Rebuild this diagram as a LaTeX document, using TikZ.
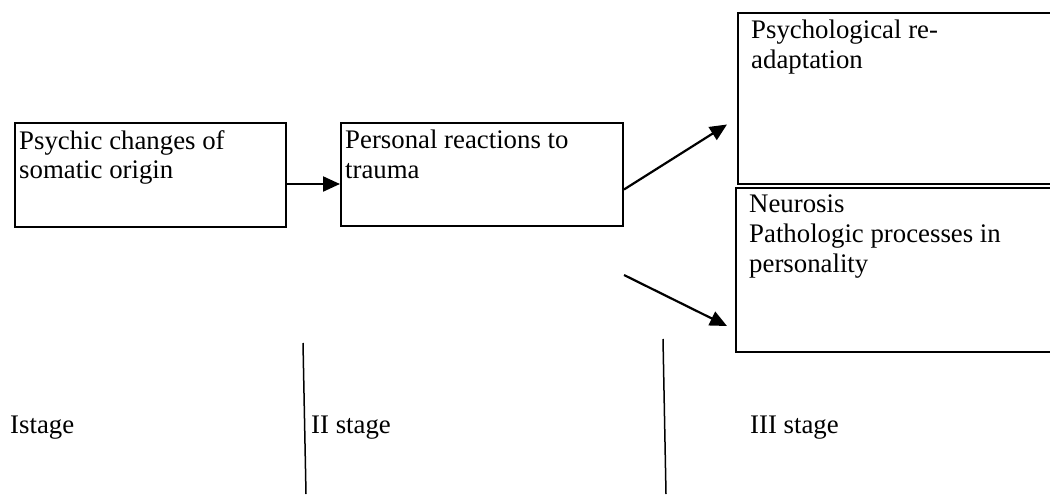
\documentclass[tikz,border=0pt]{standalone}
\usepackage{fontspec}
\setmainfont{Liberation Serif}
\usetikzlibrary{arrows.meta,positioning}

\begin{document}
\begin{tikzpicture}[x=1pt,y=-1pt,font=\fontsize{26.8pt}{29.7pt}\selectfont,
  main node/.style={rectangle,draw,line width=2pt,anchor=north west,inner sep=0pt},
  box text/.style={anchor=north west,align=left,inner sep=0pt,xshift=5pt,yshift=-8pt},
  flow/.style={-{Triangle[length=17pt,width=15pt]},line width=2.2pt},
  stage line/.style={line width=1.5pt},
  stage/.style={anchor=base west,inner sep=0pt}]
  \useasboundingbox (0,0) rectangle (1050,498);
  \clip (0,0) rectangle (1050,498);
  % boxes of the three stages
  \node [main node,minimum width=271pt,minimum height=104pt] (somatic) at (14,122) {};
  \node [main node,minimum width=282pt,minimum height=103pt] (reaction) at (340,122) {};
  \node [main node,minimum width=340pt,minimum height=171pt] (readapt) at (737,12) {};
  \node [main node,minimum width=340pt,minimum height=164pt] (neurosis) at (735,187) {};
  \node [box text] (somatictext) at (somatic.north west) {Psychic changes of\\somatic origin};
  \node [box text] (reactiontext) at (reaction.north west) {Personal reactions to\\trauma};
  \node [box text,xshift=9pt] (readapttext) at (readapt.north west) {Psychological re-\\adaptation};
  \node [box text,xshift=9pt] (neurosistext) at (neurosis.north west) {Neurosis\\Pathologic processes in\\personality};
  % arrows
  \draw [flow] ([yshift=-9pt]somatic.east) -- ([yshift=-9pt]somatic.east -| reaction.west);
  \draw [flow] ([yshift=-15pt]reaction.east) -- ([xshift=-10pt,yshift=-26pt]readapt.west);
  \draw [flow] ([yshift=-48pt]reaction.south east) -- ([xshift=-8pt,yshift=-56pt]neurosis.west);
  % stage borders
  \coordinate (firsttop) at (303,343);
  \coordinate (firstbottom) at (306,494);
  \coordinate (secondtop) at (663,339);
  \coordinate (secondbottom) at (666,494);
  \draw [stage line] (firsttop) -- (firstbottom);
  \draw [stage line] (secondtop) -- (secondbottom);
  \node [stage] (stageone) at (10,433) {Istage};
  \node [stage] (stagetwo) at (311,433) {II stage};
  \node [stage] (stagethree) at (750,433) {III stage};
\end{tikzpicture}
\end{document}
